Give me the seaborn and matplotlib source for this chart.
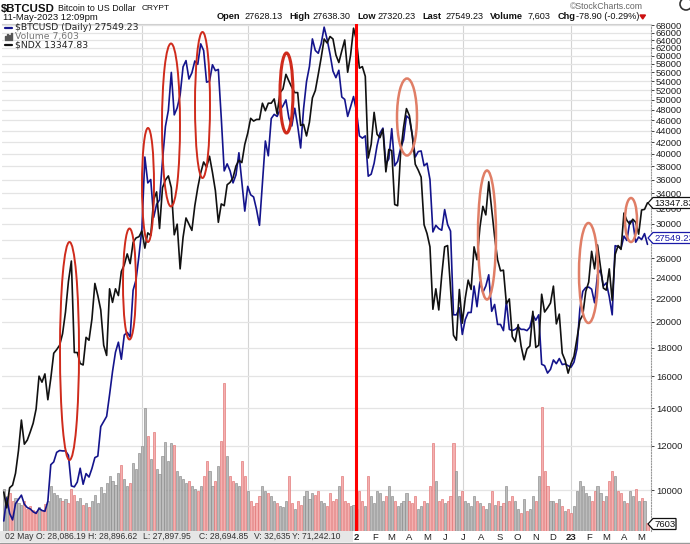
import numpy as np
import pandas as pd
import matplotlib
matplotlib.use("Agg")
import matplotlib.pyplot as plt
import matplotlib.ticker as mticker
from matplotlib.patches import Ellipse, Rectangle, Polygon, Circle
import seaborn as sns

sns.set_style("white")
plt.rcParams['font.family'] = ['Liberation Sans', 'DejaVu Sans']

# ---------------- data (5-day samples, 2020-05-11 .. 2023-05-11) ----------------
dates = pd.date_range("2020-05-11", periods=220, freq="5D")

btc = [
    # 2020 May..Dec
    8800, 9680, 9080, 8840, 9450,
    9620, 9790, 9430, 9300, 9250, 9140,
    9080, 9270, 9190, 9160, 9550, 11100,
    11230, 11680, 11770, 11750, 11750, 11540,
    10170, 10130, 10330, 10940, 10240, 10700,
    10550, 10930, 11430, 11500, 12990, 13270,
    13550, 14820, 16300, 17650, 18400, 17150,
    18950, 19160, 18800, 22800, 23800, 26300,
    # 2021
    29400, 39500, 35500, 36000, 30800, 32500, 33100,
    38900, 44800, 47900, 56000, 47000,
    48400, 51000, 57300, 58800, 54500, 55900,
    58700, 57900, 63000, 61300, 53800, 54000,
    57800, 56400, 56700, 46400, 37300, 38400, 37300,
    35500, 36700, 40200, 35600, 31600, 35000,
    33800, 33500, 31800, 29800, 35400, 42200,
    39700, 46300, 47100, 46700, 48000, 48800,
    50000, 46400, 44900, 48300, 44900, 41000,
    48200, 53900, 57400, 64300, 61300, 60600,
    63100, 67500, 64200, 60400, 56300, 54800,
    56500, 50600, 50100, 46700, 48600, 50700,
    # 2022
    47700, 43100, 42700, 43100, 36500, 36800, 38500,
    41400, 43600, 44500, 38400, 39200,
    44400, 38100, 38800, 40900, 42400, 46800,
    46300, 43200, 39500, 40400, 40500, 38100,
    38500, 36000, 29000, 29800, 29400, 29200, 31800,
    29900, 29100, 20600, 20600, 21200, 19000,
    20200, 20800, 20800, 23200, 21300, 23600,
    22600, 23200, 24300, 20900, 21500, 19800,
    19800, 19300, 21800, 19400, 19300, 19400,
    19600, 19400, 19400, 19300, 19570, 20600,
    20150, 20600, 16800, 16700, 16200, 16450,
    17100, 16840, 17200, 16780, 16820, 16700,
    # 2023
    16600, 16950, 17900, 21100, 22700, 23050, 23100,
    22900, 21650, 24300, 24800, 23200,
    23500, 22200, 20600, 27400, 27300, 27100,
    28500, 28000, 30300, 30300, 27800, 28400,
    28100, 28800, 27550,
]

ndx = [
    # 2020
    9330, 9150, 9380, 9410, 9550,
    9820, 10200, 9900, 9950, 10050, 10160,
    10340, 10770, 10690, 10800, 10460, 10740,
    11080, 11130, 11190, 11350, 11660, 12110,
    12420, 11090, 11090, 10940, 10920, 11300,
    11260, 11560, 12080, 11900, 11690, 11190,
    11050, 12000, 11800, 12000, 11900, 12260,
    12360, 12530, 12380, 12710, 12780, 12800,
    # 2021
    12890, 12620, 12860, 12820, 13400, 13530, 12930,
    13600, 13730, 13800, 13600, 12830,
    13000, 12300, 12790, 13100, 13000, 12900,
    13300, 13600, 13850, 14040, 13950, 14140,
    13860, 13550, 13030, 13330, 13300, 13650, 13690,
    13770, 13970, 14070, 14030, 14350, 14550,
    14820, 14770, 14800, 14800, 15100, 14960,
    15100, 15100, 15180, 14900, 15300, 15370,
    15650, 15520, 15400, 15300, 15300, 14690,
    14710, 14500, 14750, 15200, 15340, 15650,
    15980, 16350, 16270, 16400, 16350, 16030,
    15880, 16110, 16330, 15690, 16030, 16570,
    # 2022
    16320, 15770, 15800, 15610, 14110, 14350, 14930,
    14530, 14470, 14620, 13870, 14260,
    14240, 13320, 13300, 14190, 14650, 15000,
    14870, 14500, 14000, 13900, 13780, 12990,
    12850, 12640, 11700, 12000, 11690, 12200, 12640,
    12660, 12010, 11330, 11260, 11990, 11500,
    11860, 12130, 11990, 12640, 12440, 12950,
    13290, 13150, 13700, 13240, 12800, 12440,
    12270, 12280, 11780, 11850, 11310, 11240,
    11480, 11180, 10990, 11140, 11180, 11670,
    11160, 11190, 11920, 11660, 11720, 11790,
    12040, 11490, 11630, 11080, 10980, 10810,
    # 2023
    10940, 11040, 11280, 11540, 11620, 11960, 12100,
    12570, 12300, 12670, 12340, 12010,
    11980, 12300, 11830, 12520, 12660, 12600,
    13180, 13060, 13000, 13080, 13030, 12840,
    13230, 13240, 13348,
]

volume_k = [
    # 2020
    42, 35, 38, 30, 33,
    28, 26, 30, 22, 25, 21,
    20, 24, 21, 27, 30, 45,
    38, 36, 33, 30, 32, 28,
    42, 36, 30, 33, 26, 28,
    24, 30, 36, 28, 44, 38,
    48, 55, 50, 46, 58, 66,
    52, 45, 48, 68, 62, 78,
    # 2021
    85, 123, 95, 72, 99, 62, 57,
    75, 89, 70, 88, 86,
    60, 55, 52, 48, 50, 45,
    42, 40, 45, 55, 70, 60,
    45, 50, 65, 90, 148, 75, 55,
    50, 48, 45, 70, 55, 40,
    30, 25, 28, 35, 45, 40,
    38, 35, 30, 28, 25, 24,
    30, 55, 28, 22, 30, 26,
    35, 40, 32, 38, 36, 40,
    30, 28, 25, 38, 30, 32,
    45, 55, 30, 28, 25, 26,
    # 2022
    22, 40, 30, 25, 55, 35, 28,
    40, 38, 30, 35, 45,
    35, 30, 25, 28, 30, 38,
    30, 28, 35, 22, 25, 30,
    28, 45, 88, 50, 30, 32, 28,
    30, 35, 88, 60, 35, 40,
    30, 28, 25, 35, 30, 28,
    25, 22, 28, 40, 26, 30,
    25, 28, 45, 30, 35, 30,
    22, 18, 32, 20, 22, 35,
    30, 55, 124, 60, 45, 30,
    30, 28, 32, 25, 20, 22,
    # 2023
    18, 25, 40, 50, 45, 38, 35,
    30, 40, 45, 38, 30,
    35, 50, 60, 55, 40, 38,
    30, 28, 40, 35, 42, 30,
    33, 30, 8,
]

price_ticks = list(range(10000, 68001, 2000))
month_ticks = pd.date_range("2022-01-01", "2023-05-01", freq="MS")
month_labels = ['2', 'F', 'M', 'A', 'M', 'J', 'J', 'A', 'S', 'O', 'N', 'D',
                '23', 'F', 'M', 'A', 'M']
half_year_lines = pd.to_datetime(["2021-01-01", "2021-07-01", "2022-07-01", "2023-01-01"])

df = pd.DataFrame({"date": dates, "btc": btc, "ndx": ndx, "vol": volume_k})

# ---------------- figure ----------------
W, H = 690, 544
fig = plt.figure(figsize=(W / 100, H / 100), dpi=100)
fig.patch.set_facecolor("white")
rect = [2 / W, 1 - 531 / H, 649 / W, 507 / H]
xlim = (pd.Timestamp("2020-05-08"), pd.Timestamp("2023-05-17"))

ax = fig.add_axes(rect)
ax.set_yscale("log")
ax.set_ylim(8444, 68380)
ax.grid(axis="y", color="#e4e4e4", lw=0.9)
for t in half_year_lines:
    ax.axvline(t, color="#d4d4d4", lw=0.8, zorder=0)
for sp in ["left", "bottom"]:
    ax.spines[sp].set_visible(False)
ax.spines["right"].set_color("#999999")
ax.spines["right"].set_linestyle((0, (1, 1.5)))
ax.spines["right"].set_linewidth(0.8)
ax.spines["top"].set_color("#d0d0d0")
ax.spines["top"].set_linewidth(0.8)

# volume pane (overlay)
axv = fig.add_axes(rect, sharex=ax)
axv.patch.set_visible(False)
axv.axis("off")
axv.set_ylim(0, 507)
colors, edges = [], []
for i in range(len(btc)):
    down = i > 0 and btc[i] < btc[i - 1]
    colors.append("#f4b0b0" if down else "#bcbcbc")
    edges.append("#e07272" if down else "#8a8a8a")
axv.bar(df["date"], df["vol"], width=3.6, color=colors, edgecolor=edges,
        linewidth=0.45, align="center")

# BTC line
axb = fig.add_axes(rect, sharex=ax)
axb.patch.set_visible(False)
axb.set_yscale("log")
sns.lineplot(data=df, x="date", y="btc", ax=axb, color="#14148c", lw=1.2)
axb.set_ylim(8444, 68380)
axb.axis("off")

# NDX overlay line
axn = fig.add_axes(rect, sharex=ax)
axn.patch.set_visible(False)
axn.set_yscale("log")
sns.lineplot(data=df, x="date", y="ndx", ax=axn, color="#111111", lw=1.2)
axn.set_ylim(8891, 16656)
axn.axvline(pd.Timestamp("2022-01-01"), color="#ff0000", lw=2.2, zorder=10)
axn.axis("off")

ax.set_xlim(*xlim)
ax.yaxis.tick_right()
ax.yaxis.set_major_locator(mticker.FixedLocator(price_ticks))
ax.yaxis.set_minor_locator(mticker.NullLocator())
ax.yaxis.set_major_formatter(mticker.FuncFormatter(lambda v, p: f"{int(round(v))}"))
ax.tick_params(axis="y", which="major", length=2, width=0.6, pad=1.5,
               labelsize=6.8, colors="#222222")
ax.set_xticks(month_ticks)
ax.set_xticklabels(month_labels)
ax.tick_params(axis="x", length=0, pad=1.8, labelsize=6.8, colors="#222222")
for lab in ax.get_xticklabels():
    if lab.get_text() in ("2", "23"):
        lab.set_fontweight("bold")
ax.set_xlabel("")
ax.set_ylabel("")

# ---------------- overlay in pixel coordinates ----------------
ov = fig.add_axes([0, 0, 1, 1])
ov.set_xlim(0, W)
ov.set_ylim(H, 0)
ov.axis("off")
ov.patch.set_visible(False)

# hand-drawn ellipses
red, salmon = "#cf2b1c", "#e07e66"
ellipses = [
    (69.5, 351, 19, 218, red, 1.4), (129.5, 284, 13, 111, red, 1.4),
    (148, 185, 12, 114, red, 1.4), (171, 125, 18, 163, red, 1.4),
    (202.5, 105, 15, 146, red, 1.4), (286.5, 93, 13, 80, red, 2.2),
    (407, 117, 20, 77, salmon, 1.8), (487, 235, 18, 129, salmon, 1.8),
    (588.5, 273, 19, 100, salmon, 1.8), (631, 220, 12, 44, salmon, 1.8),
]
for cx, cy, w, h, c, lw in ellipses:
    ov.add_patch(Ellipse((cx, cy), w, h, fill=False, edgecolor=c, lw=lw, zorder=20))

# title / header
ov.text(1, 8.8, "$BTCUSD", fontsize=8.2, fontweight="bold", va="center", color="#111")
ov.text(58, 8.8, "Bitcoin to US Dollar", fontsize=6.4, va="center", color="#111")
ov.text(142, 8.8, "CRYPT", fontsize=6.0, va="center", color="#111")
ov.text(3, 17.5, "11-May-2023 12:09pm", fontsize=6.8, va="center", color="#111")
ov.text(570, 6.5, "\u00a9StockCharts.com", fontsize=6.3, va="center", color="#666666")
ov.add_patch(Circle((686, 4), 6, fill=False, edgecolor="#333", lw=1.2, clip_on=True))

hdr = [(217, "Open", True), (244, "27628.13", False), (289, "High", True),
       (312, "27638.30", False), (357, "Low", True), (377, "27320.23", False),
       (422, "Last", True), (445, "27549.23", False), (490, "Volume", True),
       (528, "7,603", False), (558, "Chg", True), (576, "-78.90 (-0.29%)", False)]
for x, s, b in hdr:
    ov.text(x, 16.8, s, fontsize=6.7 if b else 6.6,
            fontweight="bold" if b else "normal", va="center", color="#111")
ov.add_patch(Polygon([[640, 15], [645.5, 15], [642.7, 19]], closed=True,
                     color="#cc1111"))

# legend
ov.plot([5, 12], [28, 28], color="#14148c", lw=1.6)
ov.text(15, 28, "$BTCUSD (Daily) 27549.23", fontsize=6.7, va="center",
        color="#222", family="DejaVu Sans")
for k, hh in enumerate([4, 6, 5, 7]):
    ov.add_patch(Rectangle((5 + k * 2, 40 - hh), 1.3, hh, color="#555"))
ov.text(15, 36.8, "Volume 7,603", fontsize=6.7, va="center", color="#777",
        family="DejaVu Sans")
ov.plot([5, 12], [45, 45], color="#111", lw=1.6)
ov.text(15, 45, "$NDX 13347.83", fontsize=6.7, va="center", color="#222",
        family="DejaVu Sans")

# right-side value tags
def tag(y, text, ec, tc, right=694):
    pts = [[648, y], [653, y - 5.5], [right, y - 5.5], [right, y + 5.5], [653, y + 5.5]]
    ov.add_patch(Polygon(pts, closed=True, facecolor="white", edgecolor=ec, lw=0.9,
                         zorder=30))
    ov.text(654, y + 0.3, text, fontsize=6.8, va="center", color=tc, zorder=31)

tag(203, "13347.83", "#111111", "#111111")
tag(238, "27549.23", "#1a1aa8", "#1a1aa8")
tag(524, "7603", "#111111", "#111111", right=676)

# bottom tooltip bar
ov.add_patch(Rectangle((0, 531), 353, 11, facecolor="#e6e6e6", edgecolor="none", zorder=5))
tip = [(5, "02 May"), (36, "O: 28,086.19"), (88, "H: 28,896.62"),
       (143, "L: 27,897.95"), (199, "C: 28,694.85"), (254, "V: 32,635"),
       (292, "Y: 71,242.10")]
for x, s in tip:
    ov.text(x, 536.8, s, fontsize=6.2, va="center", color="#333", zorder=6)
ov.plot([0, W], [542.5, 542.5], color="#9a9a9a", lw=1.0)

fig.savefig("out.png", dpi=100)
